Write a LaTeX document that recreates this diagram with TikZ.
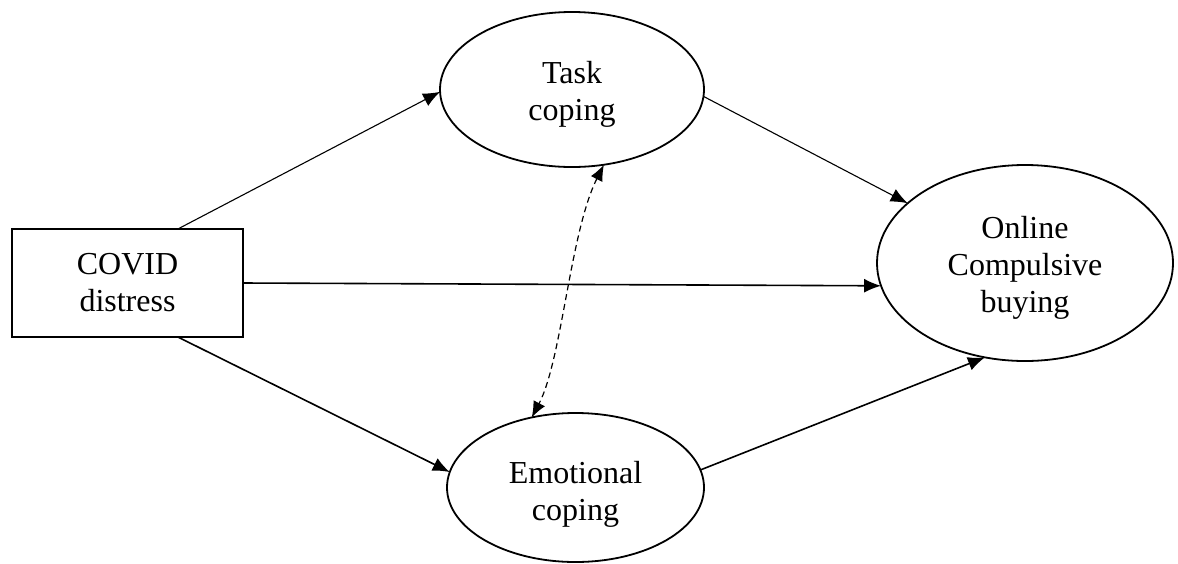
\documentclass[tikz,border=0pt]{standalone}
\usepackage{fontspec}
\setmainfont{Liberation Serif}
\usetikzlibrary{arrows.meta, shapes.geometric}
\begin{document}
\begin{tikzpicture}[x=0.5pt, y=-0.5pt,
  every node/.style={font=\fontsize{16}{18.5}\selectfont, align=center, inner sep=0pt, outer sep=0pt},
  latent/.style={draw, ellipse, line width=0.9pt},
  link/.style={-{Latex[length=8.5pt, width=7pt]}, line width=0.8pt},
  thinlink/.style={-{Latex[length=8.5pt, width=7pt]}, line width=0.55pt}]
  \useasboundingbox (0,0) rectangle (1178,563);

  % Predictor
  \node[draw, line width=1pt, minimum width=115.5pt, minimum height=54pt] (covid) at (127.5,283) {COVID\\distress};

  % Mediators
  \node[latent, text height=34.5pt, minimum width=132pt, minimum height=77.5pt] (task) at (572,89.5) {Task\\coping};
  \node[latent, text height=36.5pt, minimum width=128.5pt, minimum height=74.5pt] (emo) at (575.5,487.5) {Emotional\\coping};

  % Outcome
  \node[latent, text height=52.5pt, minimum width=148pt, minimum height=98pt] (ocb) at (1025,263) {Online\\Compulsive\\buying};

  % Paths
  \draw[thinlink] (covid.47) -- (task.181);
  \draw[link] (covid.east) -- (ocb.189.2);
  \draw[link] (covid.-47) -- (emo.173);
  \draw[thinlink] (task.-3) -- (ocb.153);
  \draw[link] (emo.8) -- (ocb.247.8);

  % Covariance between mediators
  \draw[{Latex[length=8pt, width=6.5pt]}-{Latex[length=8pt, width=6.5pt]}, line width=0.6pt, dash pattern=on 3pt off 2pt]
    (task.-67) .. controls (570,232) and (562,360) .. (emo.122);
\end{tikzpicture}
\end{document}
